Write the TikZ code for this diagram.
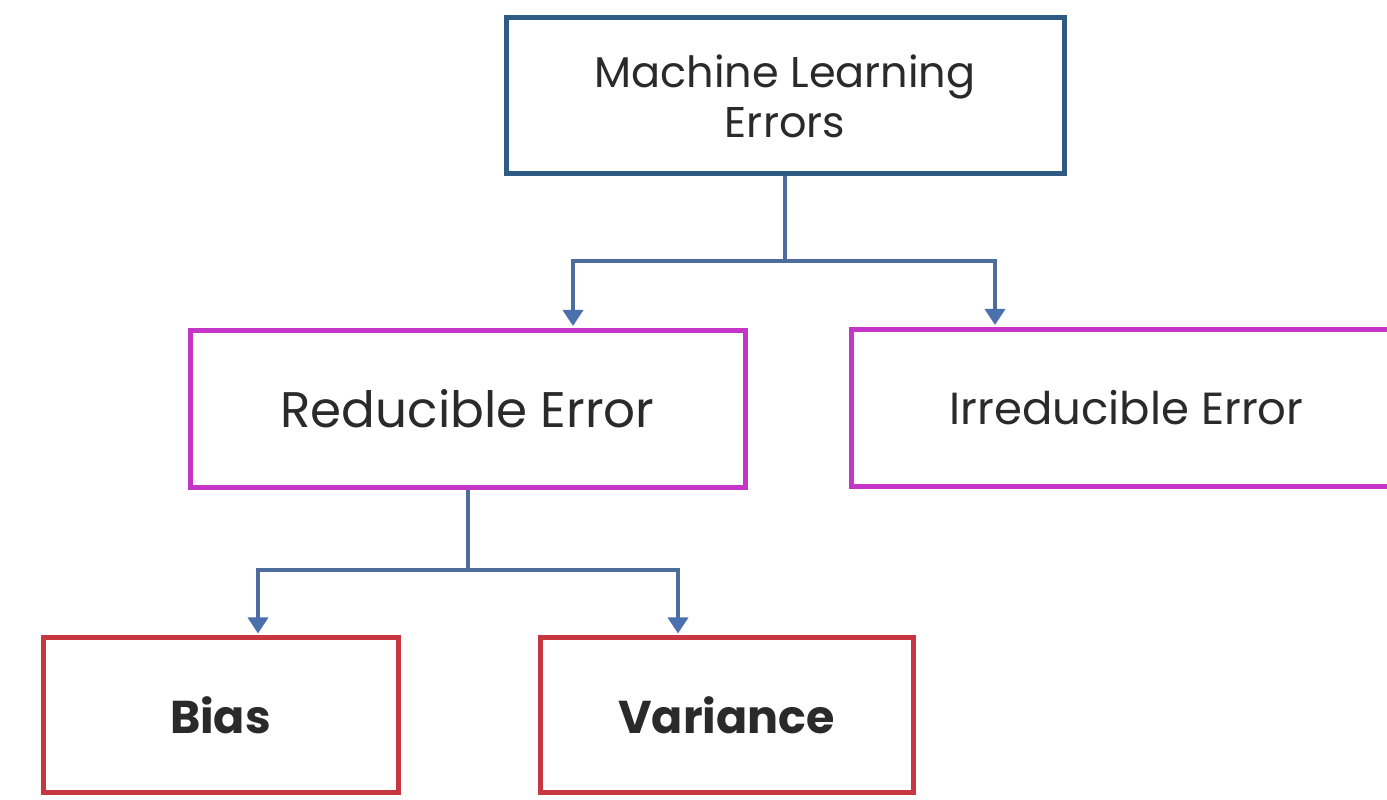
\documentclass[tikz,border=0pt]{standalone}
\usepackage{fontspec}
\setmainfont{Poppins}
\usetikzlibrary{arrows.meta}
\definecolor{topc}{HTML}{2F5A84}
\definecolor{magc}{HTML}{C536C8}
\definecolor{redc}{HTML}{C8363F}
\definecolor{linec}{HTML}{4D6E9C}
\definecolor{tipc}{HTML}{4A70AE}
\definecolor{txtc}{HTML}{2A2A2A}
\begin{document}
\begin{tikzpicture}[x=1pt,y=1pt,
  box/.style={draw,line width=5pt,rectangle,inner sep=0pt,text=txtc,align=center},
  topbox/.style={box,draw=topc,minimum width=558pt,minimum height=156pt,font=\fontsize{43}{50}\selectfont},
  midbox/.style={box,draw=magc,minimum height=157pt},
  lowbox/.style={box,draw=redc,minimum height=155pt,font=\fontsize{46}{50}\selectfont\bfseries},
  conn/.style={draw=linec,line width=3.5pt},
  arr/.style={conn,-{Triangle[width=20pt,length=16pt,color=tipc]}}
]
\useasboundingbox (0,0) rectangle (1387,800);
\clip (0,0) rectangle (1387,800);
\fill[white] (0,0) rectangle (1387,800);
\node[topbox] (top) at (785,704) {Machine Learning\\Errors};
\node[midbox,minimum width=555pt,font=\fontsize{50}{56}\selectfont] (red) at (467.5,391) {Reducible Error};
\node[midbox,minimum width=551pt,font=\fontsize{45}{50}\selectfont] (irr) at (1126.5,392) {Irreducible Error};
\node[lowbox,minimum width=355pt] (bias) at (220.5,84.5) {Bias};
\node[lowbox,minimum width=373pt] (var) at (726.5,84.5) {Variance};
\coordinate (j1) at (785,539);
\coordinate (j2) at (468,230);
\draw[conn] (top.south) -- (j1);
\draw[arr] (j1) -| ([xshift=105.5pt,yshift=2pt]red.north);
\draw[arr] (j1) -| ([xshift=-131.5pt,yshift=2pt]irr.north);
\draw[conn] ([xshift=0.5pt]red.south) -- (j2);
\draw[arr] (j2) -| ([xshift=37.5pt,yshift=2pt]bias.north);
\draw[arr] (j2) -| ([xshift=-48.5pt,yshift=2pt]var.north);
\end{tikzpicture}
\end{document}
